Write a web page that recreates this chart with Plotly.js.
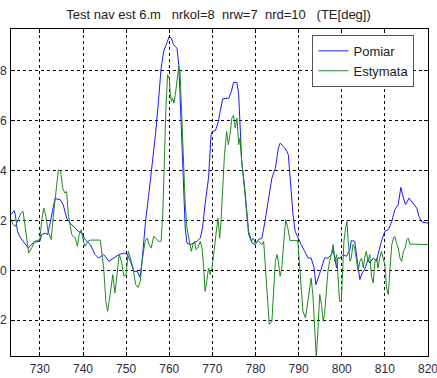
<!DOCTYPE html>
<html>
<head>
<meta charset="utf-8">
<script src="https://cdn.plot.ly/plotly-3.0.1.min.js"></script>
<style>html,body{margin:0;padding:0;background:#fff;}#chart{width:437px;height:378px;}</style>
</head>
<body>
<div id="chart"></div>
<script>
// Pomiar (measurement)
const pomiarX = [723.3,724.0,724.3,724.8,725.3,726.1,727.3,728.1,728.8,730.0,730.4,731.2,731.8,732.3,733.1,733.5,734.7,735.4,736.2,737.0,738.2,738.9,739.7,740.5,741.7,742.8,743.6,744.8,746.0,747.1,748.3,749.5,750.2,751.0,751.8,752.6,753.2,753.7,754.5,755.2,756.0,756.8,757.5,758.1,758.7,759.5,760.0,760.5,761.0,761.8,762.2,762.5,762.9,763.3,763.7,764.1,764.9,765.6,766.4,767.2,767.7,768.3,769.1,769.7,770.0,770.7,771.4,771.8,772.4,773.8,774.4,774.9,775.7,776.1,776.4,776.8,777.5,778.0,778.4,779.2,779.9,780.7,781.5,782.2,783.0,783.8,784.6,785.3,785.7,786.5,787.3,787.6,788.1,788.7,789.2,789.8,790.6,791.4,792.2,792.9,793.6,794.0,794.7,795.3,796.0,796.8,797.6,798.0,798.4,798.8,799.1,799.6,800.3,801.1,801.9,802.2,803.0,803.6,804.2,804.7,805.3,806.1,806.5,807.3,808.1,808.4,809.2,810.0,810.8,811.6,812.3,813.1,813.7,814.3,814.8,815.6,816.2,816.8,817.4,817.9,818.6,820.0];
const pomiarY = [2.23,2.39,2.23,1.56,1.36,1.16,0.89,1.05,1.13,1.16,1.43,1.49,1.43,1.83,2.49,2.87,2.83,2.63,2.09,1.89,1.69,1.56,1.49,1.23,1.03,0.63,0.49,0.63,0.36,0.49,0.63,0.69,0.65,0.36,-0.04,-0.04,-0.28,0.36,1.96,2.96,4.09,5.43,6.76,8.09,8.76,9.09,9.36,9.29,9.03,8.89,8.23,7.03,5.03,3.03,1.69,1.09,1.03,1.09,1.16,1.29,1.69,2.63,3.69,5.43,5.56,5.59,5.96,6.36,6.87,6.89,7.16,7.52,7.52,7.03,5.69,4.36,3.29,2.23,1.56,1.09,1.03,1.23,1.29,1.96,2.89,3.69,4.09,4.89,5.09,4.96,4.76,4.63,3.56,2.23,1.56,1.36,1.03,0.76,0.49,0.49,0.09,-0.57,-0.24,0.09,0.49,0.49,0.63,0.83,0.49,0.09,0.49,0.49,0.63,0.56,0.83,1.19,1.16,0.49,-0.37,-0.11,0.03,0.43,0.29,0.49,0.36,0.63,1.16,1.56,1.63,1.96,2.43,2.63,3.32,2.89,2.63,2.89,2.76,2.63,2.49,2.16,1.93,1.89];
// Estymata (estimate)
const estX = [723.3,723.8,724.3,724.9,725.6,726.1,726.5,726.9,727.4,728.1,728.8,730.0,730.4,730.9,731.4,731.9,732.6,733.1,733.7,734.3,734.8,735.3,735.8,736.2,736.6,737.4,738.2,738.7,739.1,739.6,740.1,740.5,741.1,741.7,744.0,744.8,745.3,745.7,746.3,746.9,747.4,747.9,748.4,748.9,749.5,750.0,750.5,751.0,751.6,752.2,752.8,753.3,753.7,754.4,754.9,755.3,755.8,756.4,756.9,757.5,758.1,758.5,758.8,759.2,759.6,760.0,760.2,760.5,760.8,761.1,761.4,761.8,762.2,762.5,762.9,763.3,763.7,764.1,764.6,765.1,765.5,765.9,766.2,766.6,767.2,767.6,768.0,768.3,768.7,769.1,769.5,769.9,770.3,770.7,771.0,771.3,771.7,772.0,772.4,772.8,773.3,773.7,774.1,774.5,774.9,775.3,775.7,776.1,776.4,776.8,777.5,778.0,778.4,779.0,779.5,779.9,780.7,781.5,781.9,782.2,782.6,783.2,783.8,784.2,784.6,785.0,785.3,785.7,786.1,786.5,787.0,787.5,788.0,789.8,790.2,790.6,791.0,791.6,792.0,792.6,792.9,793.3,793.7,794.1,794.5,794.9,795.3,795.7,796.0,796.4,796.8,797.2,797.6,798.0,798.4,798.8,799.1,799.5,799.9,800.2,800.5,800.9,801.2,801.5,801.9,802.2,802.6,803.0,803.4,803.8,804.2,804.6,805.0,805.3,805.7,806.1,806.5,806.9,807.3,807.7,808.1,808.4,808.8,809.2,809.6,810.0,810.4,810.8,811.2,811.6,812.0,812.3,812.7,813.1,813.5,813.9,814.3,814.7,815.1,815.4,815.8,820.0];
const estY = [2.03,1.83,1.76,2.03,2.29,2.36,1.83,1.16,0.69,0.89,1.16,1.23,1.96,2.49,2.16,1.56,1.23,2.16,3.16,4.03,3.96,3.29,3.09,3.16,2.23,1.43,1.29,0.96,1.43,1.63,1.16,0.96,1.16,1.21,1.21,0.09,-1.24,-1.64,-0.97,-0.17,-0.91,-0.17,0.63,0.36,-0.24,-0.17,0.76,0.49,0.09,-0.57,-0.68,-0.44,0.36,1.16,1.29,1.03,0.89,1.36,1.29,1.16,1.16,2.23,4.36,6.36,7.83,7.69,7.16,6.76,6.89,6.69,7.03,7.69,8.16,7.96,6.09,4.36,2.63,1.69,1.16,0.76,1.03,1.16,0.83,0.89,1.16,0.89,0.09,-0.84,-0.44,0.09,-0.17,0.09,0.63,1.43,1.69,2.09,1.29,1.96,3.29,4.63,5.56,5.03,5.43,6.09,6.2,5.69,6.09,5.03,5.29,4.36,3.16,2.09,1.43,1.16,1.29,1.09,1.16,1.03,1.16,0.36,-0.71,-2.17,-2.04,-0.71,0.36,0.63,0.36,-0.24,0.09,1.03,2.03,1.69,1.19,1.19,0.09,-0.97,-1.64,-1.91,-1.37,-0.57,-0.31,-0.97,-2.31,-3.51,-2.31,-0.97,-1.37,-2.04,-1.77,-0.97,-0.04,0.36,0.63,1.03,0.36,0.63,-0.31,-1.24,-1.24,0.36,1.16,1.69,1.96,1.16,0.36,0.49,1.03,0.89,0.36,-0.04,0.36,0.49,0.09,0.49,0.76,0.36,0.63,-0.24,-0.51,0.36,0.49,0.09,0.49,0.76,0.49,0.23,-0.71,-0.97,0.09,1.03,1.29,1.36,1.09,0.89,0.49,0.36,0.76,0.89,1.23,1.29,1.05,1.03];
const xTicks = [730,740,750,760,770,780,790,800,810,820];
const yTicks = [-2,0,2,4,6,8];
const seriesNames = ['Pomiar','Estymata'];
const titleText = 'Test nav est 6.m\u00a0\u00a0\u00a0nrkol=8\u00a0\u00a0nrw=7\u00a0\u00a0nrd=10\u00a0\u00a0\u00a0(TE[deg])';

const traces = [
  {x: pomiarX, y: pomiarY, name: seriesNames[0], type: 'scatter', mode: 'lines', line: {color: '#1a1aff', width: 1}},
  {x: estX, y: estY, name: seriesNames[1], type: 'scatter', mode: 'lines', line: {color: '#1e8a1e', width: 1}}
];
const axisCommon = {
  showline: true, linecolor: '#000', linewidth: 1, mirror: 'ticks',
  ticks: 'inside', ticklen: 4, tickcolor: '#000',
  showgrid: true, gridcolor: '#000', gridwidth: 1, griddash: '3px,3px',
  zeroline: false, ticklabeloverflow: 'allow',
  tickfont: {family: 'Liberation Sans, Arial, sans-serif', size: 12, color: '#2b2b3a'}
};
const layout = {
  width: 437, height: 378,
  margin: {l: 11, r: 9, t: 29, b: 22, pad: 0},
  paper_bgcolor: '#fff', plot_bgcolor: '#fff',
  title: {text: titleText, x: 0.5, xanchor: 'center', y: 0.963, yanchor: 'middle',
          font: {family: 'Liberation Sans, Arial, sans-serif', size: 13, color: '#222'}},
  xaxis: Object.assign({}, axisCommon, {range: [723.3, 820], tickvals: xTicks, ticktext: xTicks.map(String), ticklabelstandoff: 2}),
  yaxis: Object.assign({}, axisCommon, {range: [-3.43, 9.66], tickvals: yTicks, ticktext: yTicks.map(String), ticklabelstandoff: 1}),
  showlegend: true,
  legend: {x: 0.723, y: 0.982, xanchor: 'left', yanchor: 'top', bgcolor: '#fff', bordercolor: '#555', borderwidth: 1,
           font: {family: 'Liberation Sans, Arial, sans-serif', size: 13, color: '#222'}, tracegroupgap: 0}
};
Plotly.newPlot('chart', traces, layout, {staticPlot: true, displayModeBar: false});
</script>
</body>
</html>
